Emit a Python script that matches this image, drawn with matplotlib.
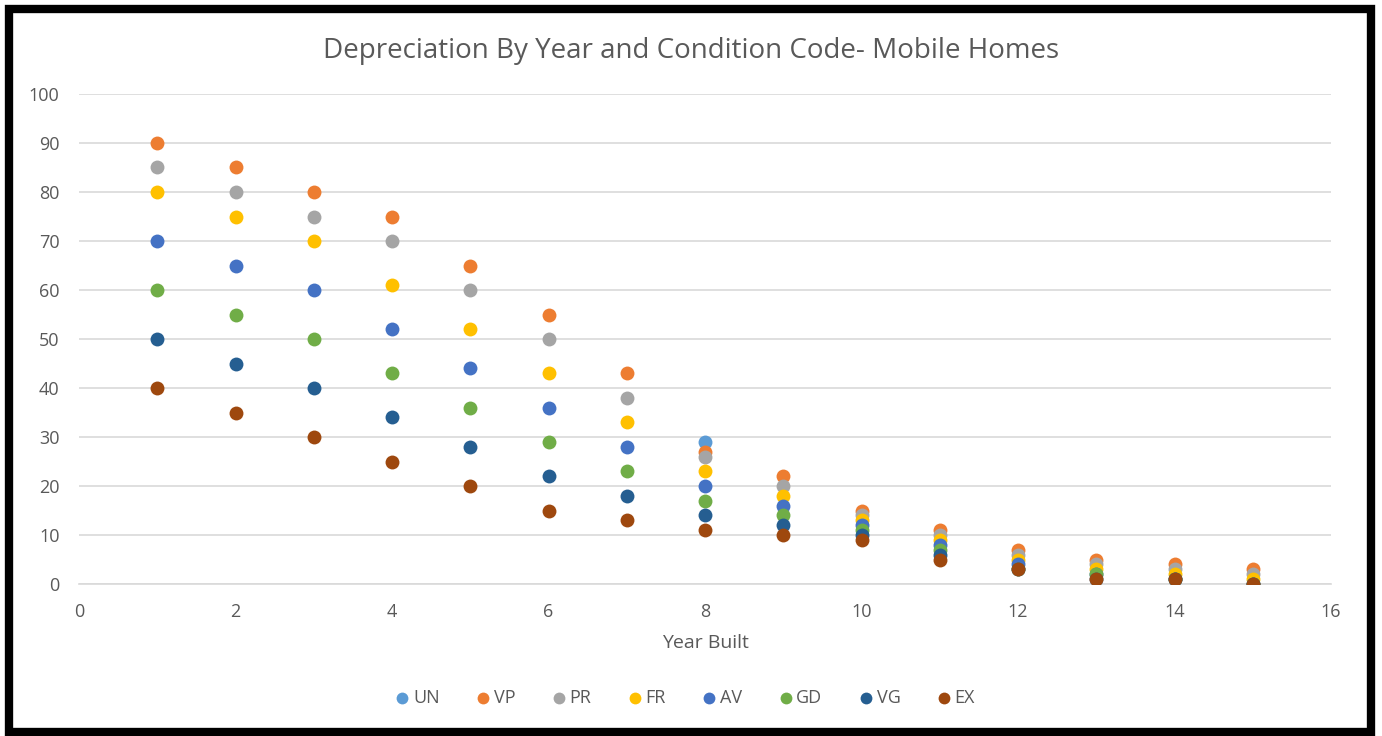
import numpy as np
import matplotlib.pyplot as plt
from matplotlib.patches import Rectangle

plt.rcParams['font.family'] = ['Open Sans', 'DejaVu Sans']

# Depreciation (%) by year built, one list per condition code
years = [1, 2, 3, 4, 5, 6, 7, 8, 9, 10, 11, 12, 13, 14, 15]
nan = np.nan
UN = [nan, nan, nan, nan, nan, nan, nan, 29, nan, nan, nan, nan, nan, nan, nan]
VP = [90, 85, 80, 75, 65, 55, 43, 27, 22, 15, 11, 7, 5, 4, 3]
PR = [85, 80, 75, 70, 60, 50, 38, 26, 20, 14, 10, 6, 4, 3, 2]
FR = [80, 75, 70, 61, 52, 43, 33, 23, 18, 13, 9, 5, 3, 2, 1]
AV = [70, 65, 60, 52, 44, 36, 28, 20, 16, 12, 8, 4, 2, 1, 0]
GD = [60, 55, 50, 43, 36, 29, 23, 17, 14, 11, 7, 3, 2, 1, 0]
VG = [50, 45, 40, 34, 28, 22, 18, 14, 12, 10, 6, 3, 1, 1, 0]
EX = [40, 35, 30, 25, 20, 15, 13, 11, 10, 9, 5, 3, 1, 1, 0]

codes = ['UN', 'VP', 'PR', 'FR', 'AV', 'GD', 'VG', 'EX']
series = [UN, VP, PR, FR, AV, GD, VG, EX]
colors = ['#5B9BD5', '#ED7D31', '#A5A5A5', '#FFC000',
          '#4472C4', '#70AD47', '#255E91', '#9E480E']

fig = plt.figure(figsize=(13.82, 7.36), dpi=100)
ax = fig.add_axes([79 / 1382, 1 - 584 / 736, (1331 - 79) / 1382, (584 - 94) / 736])

for name, vals, c in zip(codes, series, colors):
    ax.scatter(years, vals, s=100, color=c, label=name, zorder=3, linewidths=0)

ax.set_xlim(0, 16)
ax.set_ylim(0, 100)
ax.set_xticks(range(0, 17, 2))
ax.set_yticks(range(0, 101, 10))
ax.grid(axis='y', color='#d9d9d9', linewidth=1.2)
ax.set_axisbelow(True)
for s in ['top', 'right', 'left']:
    ax.spines[s].set_visible(False)
ax.spines['bottom'].set_color('#d9d9d9')
ax.spines['bottom'].set_linewidth(1.2)
ax.tick_params(length=0, labelsize=13, colors='#595959', pad=14)
ax.tick_params(axis='x', pad=14)

ax.set_xlabel('Year Built', fontsize=14, color='#595959', labelpad=9)
fig.text(0.5, 1 - 51 / 736, 'Depreciation By Year and Condition Code- Mobile Homes',
         ha='center', va='center', fontsize=20, color='#595959')

fig.legend(loc='center', bbox_to_anchor=(0.496, 1 - 698 / 736), ncol=8, frameon=False,
           fontsize=13, labelcolor='#595959', handlelength=0.7, handletextpad=0.25,
           columnspacing=2.05, markerscale=0.85)

# thick black frame around the chart
fig.patches.append(Rectangle((9 / 1382, 4 / 736), 1362 / 1382, 723 / 736,
                             transform=fig.transFigure, fill=False,
                             edgecolor='black', linewidth=6))

fig.savefig('out.png', dpi=100)
